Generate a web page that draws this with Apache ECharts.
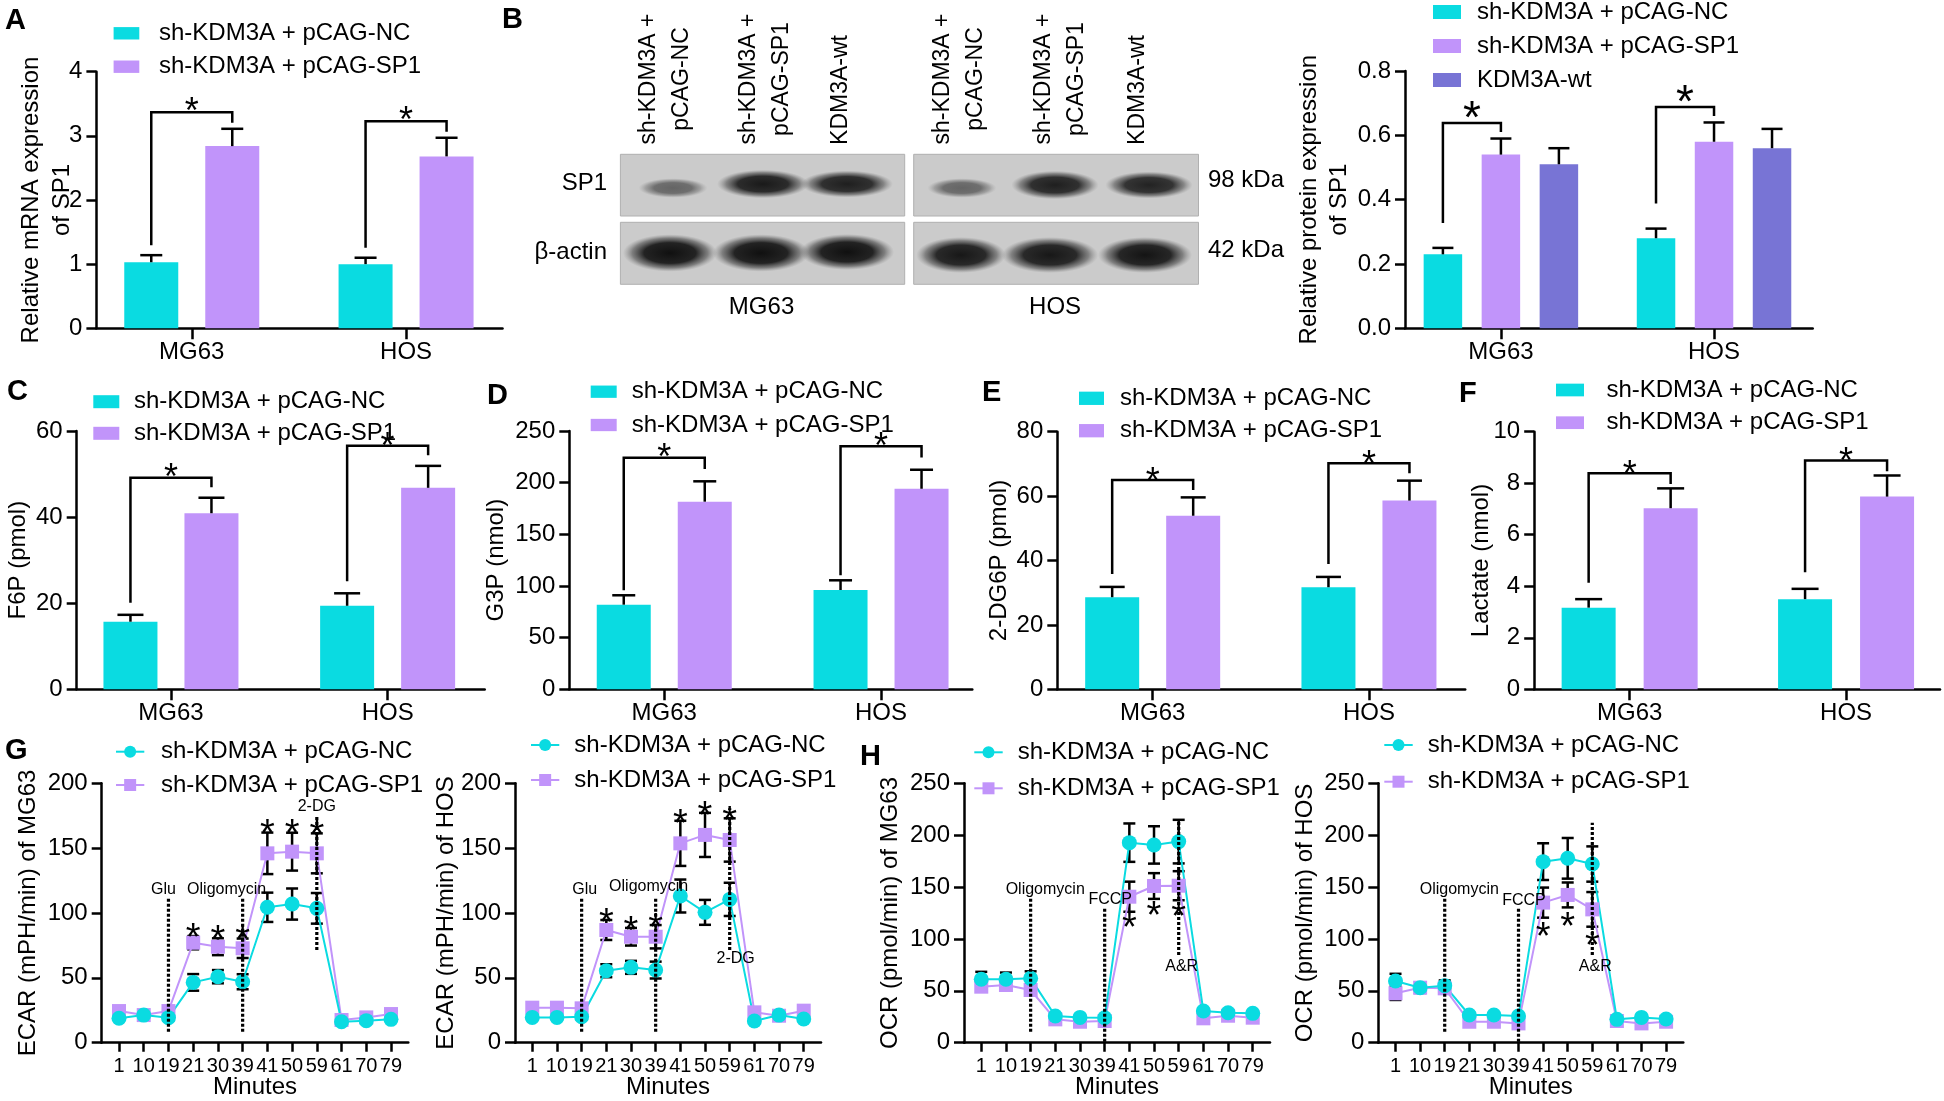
<!DOCTYPE html>
<html><head><meta charset="utf-8">
<script src="https://cdn.jsdelivr.net/npm/echarts@6/dist/echarts.min.js"></script>
<style>html,body{margin:0;padding:0;background:#fff}#c{width:1944px;height:1101px}</style>
</head><body><div id="c"></div>
<script>
// ---------------- DATA ----------------
const groups = ['MG63', 'HOS'];
const minutes = ['1','10','19','21','30','39','41','50','59','61','70','79'];
const nameNC = 'sh-KDM3A + pCAG-NC';
const nameSP1 = 'sh-KDM3A + pCAG-SP1';
const nameWT = 'KDM3A-wt';

// A: relative mRNA expression of SP1
const A_nc = [1.03, 1.00];
const A_ncErr = [0.11, 0.10];
const A_sp1 = [2.84, 2.68];
const A_sp1Err = [0.27, 0.29];

// B: relative protein expression of SP1
const B_nc = [0.23, 0.28];
const B_ncErr = [0.02, 0.03];
const B_sp1 = [0.54, 0.58];
const B_sp1Err = [0.05, 0.06];
const B_wt = [0.51, 0.56];
const B_wtErr = [0.05, 0.06];

// B: western blot
const blotCells = ['MG63', 'HOS'];
const blotLanes = ['sh-KDM3A +\npCAG-NC', 'sh-KDM3A +\npCAG-SP1', 'KDM3A-wt'];
const blotRows = ['SP1', 'β-actin'];
const blotSizes = ['98 kDa', '42 kDa'];
const blotSP1Density = [[0.55, 0.95, 0.92], [0.55, 0.92, 0.9]];
const blotActinDensity = [[1, 1, 1], [0.96, 0.96, 0.98]];

// C: F6P
const C_nc = [15.7, 19.4];
const C_ncErr = [1.6, 2.9];
const C_sp1 = [40.9, 46.8];
const C_sp1Err = [3.6, 5.1];

// D: G3P
const D_nc = [81.9, 96.1];
const D_ncErr = [9.1, 9.4];
const D_sp1 = [181.6, 194.1];
const D_sp1Err = [19.7, 18.4];

// E: 2-DG6P
const E_nc = [28.6, 31.7];
const E_ncErr = [3.2, 3.2];
const E_sp1 = [53.9, 58.6];
const E_sp1Err = [5.7, 6.2];

// F: Lactate
const F_nc = [3.17, 3.5];
const F_ncErr = [0.33, 0.4];
const F_sp1 = [7.03, 7.48];
const F_sp1Err = [0.77, 0.82];

// G: ECAR MG63
const G1_nc = [18.8, 21.3, 19.3, 46.5, 50.9, 47.0, 104.4, 106.9, 103.6, 16.2, 17.0, 18.0];
const G1_ncErr = [2, 2, 2, 6.4, 5.1, 5.8, 11.3, 12.0, 11.8, 1.5, 1.5, 1.5];
const G1_sp1 = [24.4, 21.3, 24.4, 77.1, 74.0, 72.8, 146.0, 147.3, 146.0, 17.5, 19.5, 22.1];
const G1_sp1Err = [2, 2, 2, 5.1, 6.5, 7.5, 16.0, 14.6, 15.4, 1.5, 1.5, 1.5];
const G1_events = [[2, 8.5, 111], [5, 8.5, 111], [8, 71.5, 174]];
const G_eventLabels = ['Glu', 'Oligomycin', '2-DG'];
const G_stars = [3, 4, 5, 6, 7, 8];

// G: ECAR HOS
const G2_nc = [19.5, 19.5, 20.0, 55.5, 58.1, 56.0, 113.1, 100.5, 110.5, 16.7, 21.3, 18.3];
const G2_ncErr = [2, 2, 2, 5.0, 5.0, 6.5, 12.7, 9.6, 12.8, 1.5, 1.5, 1.5];
const G2_sp1 = [27.0, 27.0, 26.5, 86.9, 81.7, 81.7, 153.7, 160.2, 156.3, 23.4, 20.8, 24.7];
const G2_sp1Err = [2, 2, 2, 7.7, 6.8, 9.0, 17.4, 17.0, 16.7, 1.5, 1.5, 1.5];
const G2_events = [[2, 8.5, 111.3], [5, 8.5, 111.3], [8, 71.5, 180.7]];

// H: OCR MG63
const H1_nc = [61.1, 61.1, 62.0, 25.7, 24.4, 24.1, 192.8, 190.6, 193.8, 30.5, 28.9, 28.3];
const H1_ncErr = [7.2, 6.5, 6.8, 2, 2, 2, 18.5, 18.0, 21.0, 2, 2, 2];
const H1_sp1 = [54.0, 55.6, 50.8, 22.5, 20.2, 20.9, 140.7, 151.0, 151.3, 23.5, 26.0, 24.1];
const H1_sp1Err = [4, 4, 5, 2, 2, 2, 14.5, 12.4, 14.0, 2, 2, 2];
const H1_events = [[2, 10.6, 139.1], [5, 1, 129.5], [8, 84.5, 214.7]];
const H_eventLabels = ['Oligomycin', 'FCCP', 'A&R'];
const H_stars = [6, 7, 8];

// H: OCR HOS
const H2_nc = [59.4, 53.0, 55.0, 26.7, 26.7, 25.7, 174.5, 177.7, 172.2, 22.5, 24.4, 22.8];
const H2_ncErr = [7, 5, 5, 2, 2, 2, 17.7, 19.6, 17.0, 2, 2, 2];
const H2_sp1 = [47.6, 53.0, 52.4, 20.2, 20.2, 18.6, 135.0, 142.4, 128.5, 20.9, 18.6, 20.2];
const H2_sp1Err = [6.4, 4, 4, 2, 2, 2, 14.5, 12.0, 16.7, 2, 2, 2];
const H2_events = [[2, 10.6, 139.1], [5, 1, 129.5], [8, 84.5, 212]];

// ---------------- STYLE / LAYOUT ----------------
const FONT = '"Liberation Sans", Arial, Helvetica, sans-serif';
const BLACK = '#000000';
const CYAN = '#0adbe1';
const LAV = '#c194fa';
const SLATE = '#7874d5';
const AX = 2.5;
const LEG = {NC: nameNC, SP1: nameSP1, WT: nameWT, NC_l: nameNC, SP1_l: nameSP1};

const LAYOUT = {
  A: {grid:[96.4,71.7,406.1,256.6], xr:[-0.445, 1.45], nameGap:18.4, nameLH:31, bw:54, bg:27, cap:22, star:36,
      br:{left:10, top:16.5, right:6, star:9},
      legend:{left:113.6, top:21.3, w:25.7, h:12.4, gap:9.4, pad:14.7}},
  B: {grid:[1405,71,407.7,257.3], xr:[-0.45, 1.463], nameGap:51, nameLH:30, bw:38.5, bg:19.5, cap:21, star:46,
      br:{left:25, top:15.5, right:6.5, star:15},
      legend:{left:1433, top:0, w:28, h:14, gap:10, pad:11}},
  C: {grid:[76.7,431,408,258.3], xr:[-0.435, 1.448], nameGap:46.4, nameLH:24, bw:54, bg:27, cap:26, star:36,
      br:{left:12, top:20, right:10.5, star:8},
      legend:{left:93.3, top:389.7, w:26, h:13, gap:7.6, pad:9.7}},
  D: {grid:[569.3,431,403,258.3], xr:[-0.438, 1.421], nameGap:60.6, nameLH:24, bw:54, bg:27, cap:23, star:36,
      br:{left:5, top:23.6, right:12.3, star:8},
      legend:{left:590.7, top:379.7, w:26, h:12.3, gap:9.3, pad:10}},
  E: {grid:[1057.3,431.7,407.9,257.6], xr:[-0.441, 1.445], nameGap:46.3, nameLH:24, bw:54, bg:27, cap:25, star:36,
      br:{left:13, top:17.3, right:7.3, star:7},
      legend:{left:1079, top:386.3, w:25, h:13.3, gap:8.4, pad:11}},
  F: {grid:[1534.2,431.7,405.8,257.6], xr:[-0.441, 1.434], nameGap:41.2, nameLH:24, bw:54, bg:28, cap:27, star:36,
      br:{left:16.5, top:15, right:4.3, star:7},
      legend:{left:1556, top:378, w:28, h:12.7, gap:8.7, pad:17.4}},
  G1: {grid:[101.7,783.3,306.6,259.4], nameGap:61.4, starOff:7,
      legend:{left:115, top:739.7, w:28.3, h:15, gap:9.3, pad:11.7},
      ev:[{at:'top',dx:-5,dy:-9},{at:'top',dx:-16,dy:-9},{at:'top',dx:0,dy:-10}]},
  G2: {grid:[515,783.3,306,259.4], nameGap:57, starOff:6,
      legend:{left:530, top:733, w:28.3, h:15, gap:11, pad:10},
      ev:[{at:'top',dx:3,dy:-9},{at:'top',dx:-7,dy:-12},{at:'bottom',dx:6,dy:9}]},
  H1: {grid:[964,783.3,306,259.4], nameGap:61.3, starOff:8,
      legend:{left:973.3, top:740.3, w:28.4, h:15, gap:12, pad:10},
      ev:[{at:'top',dx:14.6,dy:-9},{at:'top',dx:5.5,dy:-9},{at:'bottom',dx:3,dy:12}]},
  H2: {grid:[1378.3,783.3,305,259.4], nameGap:61.3, starOff:11,
      legend:{left:1383.3, top:733, w:28.4, h:15, gap:12.7, pad:10},
      ev:[{at:'top',dx:14.6,dy:-9},{at:'top',dx:5.5,dy:-8},{at:'bottom',dx:3,dy:12}]}
};
const LINE_STAR = 38;

const grid = [], xAxis = [], yAxis = [], series = [], legend = [], elements = [];

function addGrid(b) {
  grid.push({left:b[0], top:b[1], width:b[2], height:b[3], containLabel:false, outerBoundsMode:'none'});
  return grid.length - 1;
}
function addY(gi, max, step, name, gap, lh, fmt) {
  yAxis.push({type:'value', gridIndex:gi, min:0, max:max, interval:step,
    name:name, nameLocation:'middle', nameGap:gap, nameRotate:90, nameMoveOverlap:false,
    nameTextStyle:{fontFamily:FONT, fontSize:24, color:BLACK, lineHeight:lh},
    axisLine:{show:true, onZero:false, lineStyle:{color:BLACK, width:AX}},
    axisTick:{show:true, inside:false, length:10, lineStyle:{color:BLACK, width:AX}},
    axisLabel:{show:true, fontFamily:FONT, fontSize:24, color:BLACK, margin:14, formatter:fmt},
    splitLine:{show:false}});
  return yAxis.length - 1;
}
// group axis: categories placed at 0 and 1 on a value scale (GraphPad-like end padding)
function addGroupX(gi, xr) {
  const idx = groups.map((g, i) => i);
  xAxis.push({type:'value', gridIndex:gi, min:xr[0], max:xr[1],
    axisLine:{show:true, onZero:false, lineStyle:{color:BLACK, width:AX}},
    axisTick:{show:true, length:11, customValues:idx, lineStyle:{color:BLACK, width:AX}},
    axisLabel:{show:true, customValues:idx, formatter:(v) => groups[Math.round(v)] ?? '',
      fontFamily:FONT, fontSize:24, color:BLACK, margin:12},
    splitLine:{show:false}});
  return xAxis.length - 1;
}
function addMinX(gi) {
  const idx = minutes.map((m, i) => i);
  xAxis.push({type:'value', gridIndex:gi, min:-0.7, max:11.7,
    name:'Minutes', nameLocation:'middle', nameGap:33, nameMoveOverlap:false,
    nameTextStyle:{fontFamily:FONT, fontSize:24, color:BLACK},
    axisLine:{show:true, onZero:false, lineStyle:{color:BLACK, width:AX}},
    axisTick:{show:true, length:9, customValues:idx, lineStyle:{color:BLACK, width:AX}},
    axisLabel:{show:true, customValues:idx, formatter:(v) => minutes[Math.round(v)] ?? '',
      fontFamily:FONT, fontSize:20, color:BLACK, margin:14},
    splitLine:{show:false}});
  return xAxis.length - 1;
}
function addLegend(l, names, icon) {
  const o = {orient:'vertical', left:l.left, top:l.top, padding:0, itemWidth:l.w, itemHeight:l.h,
    itemGap:l.gap, selectedMode:false, data:names, formatter:(n) => LEG[n],
    textStyle:{fontFamily:FONT, fontSize:24, color:BLACK, padding:[0, 0, 0, l.pad]}};
  if (icon) o.icon = icon;
  legend.push(o);
}
function starText(x, y, fs) {
  return {type:'text', x:x, y:y + 0.27 * fs,
    style:{text:'*', font:fs + 'px ' + FONT, fill:BLACK, align:'center', verticalAlign:'middle',
      textAlign:'center', textVerticalAlign:'middle'}};
}

function barPanel(key, cfg) {
  const lay = LAYOUT[key];
  const gi = addGrid(lay.grid);
  const xi = addGroupX(gi, lay.xr);
  const yi = addY(gi, cfg.max, cfg.step, cfg.name, lay.nameGap, lay.nameLH, cfg.fmt);
  const n = cfg.series.length;
  const step = lay.bw + lay.bg;
  cfg.series.forEach(s => series.push({type:'bar', name:s.name, xAxisIndex:xi, yAxisIndex:yi,
    data:s.vals.map((v, c) => [c, v]), barWidth:lay.bw, barGap:(lay.bg / lay.bw * 100) + '%',
    itemStyle:{color:s.color}, silent:true, z:2}));
  // error bars
  const ed = [];
  cfg.series.forEach((s, k) => s.vals.forEach((v, c) => ed.push([c, v, v + s.errs[c], k])));
  series.push({type:'custom', xAxisIndex:xi, yAxisIndex:yi, silent:true, clip:false, z:3,
    data:ed, encode:{x:0, y:[1, 2]},
    renderItem(p, api) {
      const c = api.value(0), k = api.value(3);
      const x = api.coord([c, 0])[0] + (k - (n - 1) / 2) * step;
      const yb = api.coord([c, api.value(1)])[1];
      const yt = api.coord([c, api.value(2)])[1];
      return {type:'group', children:[
        {type:'line', shape:{x1:x, y1:yb, x2:x, y2:yt}, style:{stroke:BLACK, lineWidth:AX}},
        {type:'line', shape:{x1:x - lay.cap / 2, y1:yt, x2:x + lay.cap / 2, y2:yt}, style:{stroke:BLACK, lineWidth:AX}}
      ]};
    }});
  // significance brackets between series 0 and 1
  const s0 = cfg.series[0], s1 = cfg.series[1];
  const bd = groups.map((g, c) => [c, s0.vals[c] + s0.errs[c], s1.vals[c] + s1.errs[c]]);
  series.push({type:'custom', xAxisIndex:xi, yAxisIndex:yi, silent:true, clip:false, z:4,
    data:bd, encode:{x:0, y:[1, 2]},
    renderItem(p, api) {
      const c = api.value(0);
      const cx = api.coord([c, 0])[0];
      const xl = cx + (0 - (n - 1) / 2) * step, xr = cx + (1 - (n - 1) / 2) * step;
      const yl = api.coord([c, api.value(1)])[1] - lay.br.left;
      const yb = api.coord([c, api.value(2)])[1];
      const yr = yb - lay.br.right, yt = yb - lay.br.top;
      return {type:'group', children:[
        {type:'polyline', shape:{points:[[xl, yl], [xl, yt], [xr, yt], [xr, yr]]},
          style:{stroke:BLACK, lineWidth:AX, fill:'none'}},
        starText((xl + xr) / 2, yt - lay.br.star, lay.star)
      ]};
    }});
  addLegend(lay.legend, cfg.series.map(s => s.name), 'rect');
}

function linePanel(key, cfg) {
  const lay = LAYOUT[key];
  const gi = addGrid(lay.grid);
  const xi = addMinX(gi);
  const yi = addY(gi, cfg.max, 50, cfg.name, lay.nameGap, 24);
  const errSeries = (vals, errs) => ({type:'custom', xAxisIndex:xi, yAxisIndex:yi, silent:true, clip:false, z:3,
    data:vals.map((v, i) => [i, v - errs[i], v + errs[i]]), encode:{x:0, y:[1, 2]},
    renderItem(p, api) {
      const x = api.coord([api.value(0), 0])[0];
      const y1 = api.coord([api.value(0), api.value(1)])[1];
      const y2 = api.coord([api.value(0), api.value(2)])[1];
      const cw = 6;
      return {type:'group', children:[
        {type:'line', shape:{x1:x, y1:y1, x2:x, y2:y2}, style:{stroke:BLACK, lineWidth:AX}},
        {type:'line', shape:{x1:x - cw, y1:y1, x2:x + cw, y2:y1}, style:{stroke:BLACK, lineWidth:AX}},
        {type:'line', shape:{x1:x - cw, y1:y2, x2:x + cw, y2:y2}, style:{stroke:BLACK, lineWidth:AX}}
      ]};
    }});
  series.push(errSeries(cfg.sp1, cfg.sp1Err));
  series.push(errSeries(cfg.nc, cfg.ncErr));
  series.push({type:'line', name:'SP1_l', xAxisIndex:xi, yAxisIndex:yi, silent:true, z:4,
    data:cfg.sp1.map((v, i) => [i, v]), symbol:'rect', symbolSize:14, showSymbol:true, showAllSymbol:true,
    itemStyle:{color:LAV}, lineStyle:{color:LAV, width:2}});
  series.push({type:'line', name:'NC_l', xAxisIndex:xi, yAxisIndex:yi, silent:true, z:4,
    data:cfg.nc.map((v, i) => [i, v]), symbol:'circle', symbolSize:15, showSymbol:true, showAllSymbol:true,
    itemStyle:{color:CYAN}, lineStyle:{color:CYAN, width:2}});
  // injection event lines
  series.push({type:'custom', xAxisIndex:xi, yAxisIndex:yi, silent:true, clip:false, z:6,
    data:cfg.events.map((e, k) => [e[0], e[1], e[2], k]), encode:{x:0, y:[1, 2]},
    renderItem(p, api) {
      const k = api.value(3), ev = lay.ev[k];
      const x = api.coord([api.value(0), 0])[0];
      const y0 = api.coord([api.value(0), api.value(1)])[1];
      const y1 = api.coord([api.value(0), api.value(2)])[1];
      const ly = (ev.at === 'top' ? y1 : y0) + ev.dy;
      return {type:'group', children:[
        {type:'line', shape:{x1:x, y1:y0, x2:x, y2:y1}, style:{stroke:BLACK, lineWidth:3.2, lineDash:[3, 2]}},
        {type:'text', x:x + ev.dx, y:ly, style:{text:cfg.labels[k], font:'16px ' + FONT, fill:BLACK,
          align:'center', verticalAlign:'middle', textAlign:'center', textVerticalAlign:'middle'}}
      ]};
    }});
  // stars
  const dir = cfg.starDir;
  series.push({type:'custom', xAxisIndex:xi, yAxisIndex:yi, silent:true, clip:false, z:7,
    data:cfg.stars.map(i => [i, dir > 0 ? cfg.sp1[i] + cfg.sp1Err[i] : cfg.sp1[i] - cfg.sp1Err[i]]),
    encode:{x:0, y:1},
    renderItem(p, api) {
      const pt = api.coord([api.value(0), api.value(1)]);
      return starText(pt[0], pt[1] - dir * lay.starOff, LINE_STAR);
    }});
  addLegend(lay.legend, ['NC_l', 'SP1_l']);
}

barPanel('A', {max:4, step:1, name:'Relative mRNA expression\nof SP1', series:[
  {name:'NC', vals:A_nc, errs:A_ncErr, color:CYAN},
  {name:'SP1', vals:A_sp1, errs:A_sp1Err, color:LAV}]});
barPanel('B', {max:0.8, step:0.2, name:'Relative protein expression\nof SP1', fmt:(v) => v.toFixed(1), series:[
  {name:'NC', vals:B_nc, errs:B_ncErr, color:CYAN},
  {name:'SP1', vals:B_sp1, errs:B_sp1Err, color:LAV},
  {name:'WT', vals:B_wt, errs:B_wtErr, color:SLATE}]});
barPanel('C', {max:60, step:20, name:'F6P (pmol)', series:[
  {name:'NC', vals:C_nc, errs:C_ncErr, color:CYAN},
  {name:'SP1', vals:C_sp1, errs:C_sp1Err, color:LAV}]});
barPanel('D', {max:250, step:50, name:'G3P (nmol)', series:[
  {name:'NC', vals:D_nc, errs:D_ncErr, color:CYAN},
  {name:'SP1', vals:D_sp1, errs:D_sp1Err, color:LAV}]});
barPanel('E', {max:80, step:20, name:'2-DG6P (pmol)', series:[
  {name:'NC', vals:E_nc, errs:E_ncErr, color:CYAN},
  {name:'SP1', vals:E_sp1, errs:E_sp1Err, color:LAV}]});
barPanel('F', {max:10, step:2, name:'Lactate (nmol)', series:[
  {name:'NC', vals:F_nc, errs:F_ncErr, color:CYAN},
  {name:'SP1', vals:F_sp1, errs:F_sp1Err, color:LAV}]});

linePanel('G1', {max:200, name:'ECAR (mPH/min) of MG63', nc:G1_nc, ncErr:G1_ncErr, sp1:G1_sp1, sp1Err:G1_sp1Err,
  events:G1_events, labels:G_eventLabels, stars:G_stars, starDir:1});
linePanel('G2', {max:200, name:'ECAR (mPH/min) of HOS', nc:G2_nc, ncErr:G2_ncErr, sp1:G2_sp1, sp1Err:G2_sp1Err,
  events:G2_events, labels:G_eventLabels, stars:G_stars, starDir:1});
linePanel('H1', {max:250, name:'OCR (pmol/min) of MG63', nc:H1_nc, ncErr:H1_ncErr, sp1:H1_sp1, sp1Err:H1_sp1Err,
  events:H1_events, labels:H_eventLabels, stars:H_stars, starDir:-1});
linePanel('H2', {max:250, name:'OCR (pmol/min) of HOS', nc:H2_nc, ncErr:H2_ncErr, sp1:H2_sp1, sp1Err:H2_sp1Err,
  events:H2_events, labels:H_eventLabels, stars:H_stars, starDir:-1});

// ---------------- panel letters ----------------
const letters = [['A', 5, 20], ['B', 502, 19], ['C', 7, 391], ['D', 487, 395], ['E', 982, 392],
                 ['F', 1459, 393], ['G', 5, 750], ['H', 860, 756]];
letters.forEach(l => elements.push({type:'text', x:l[1], y:l[2] + 1,
  style:{text:l[0], font:'bold 29px ' + FONT, fill:BLACK, align:'left', verticalAlign:'middle',
    textAlign:'left', textVerticalAlign:'middle'}}));

// ---------------- western blot ----------------
const BLOT = {
  boxX: [[620.4, 904.7], [913.7, 1198.5]],
  rowY: [[154.3, 216], [222.3, 284.3]],
  sp1Bands: [[[673,188,30,6.5],[763,184,40,9.5],[847,184,40,9]], [[962,188,30,6.5],[1055,185,38,9.5],[1149,185,38,9]]],
  actinBands: [[[670,253,41,12.5],[761,253,42,12.5],[847,252,41,12]], [[961,255,39,12],[1050,255,42,12],[1145,255,41,12]]],
  laneX: [[665, 765.5, 841], [959.5, 1060, 1138]],
  rowLabelX: 607, rowLabelY: [183, 252], sizeX: 1208, sizeY: [180, 250], cellY: 307
};
BLOT.boxX.forEach(bx => BLOT.rowY.forEach(ry => elements.push({type:'rect',
  shape:{x:bx[0], y:ry[0], width:bx[1] - bx[0], height:ry[1] - ry[0]},
  style:{fill:'#cbcbcb', stroke:'#b0b0b0', lineWidth:1}})));
function band(b, d) {
  const R = b[3] * 1.5;
  return {type:'circle', x:b[0], y:b[1], scaleX:(b[2] * 1.15) / R, scaleY:1,
    shape:{cx:0, cy:0, r:R},
    style:{fill:new echarts.graphic.RadialGradient(0.5, 0.5, 0.5, [
      {offset:0, color:'rgba(16,16,16,' + d + ')'},
      {offset:0.55, color:'rgba(22,22,22,' + (0.93 * d) + ')'},
      {offset:0.8, color:'rgba(50,50,50,' + (0.5 * d) + ')'},
      {offset:1, color:'rgba(110,110,110,0)'}])}};
}
blotCells.forEach((cell, ci) => {
  BLOT.sp1Bands[ci].forEach((b, li) => elements.push(band(b, blotSP1Density[ci][li])));
  BLOT.actinBands[ci].forEach((b, li) => elements.push(band(b, blotActinDensity[ci][li])));
  blotLanes.forEach((lab, li) => {
    const twoLine = lab.indexOf('\n') >= 0;
    elements.push({type:'text', x:BLOT.laneX[ci][li], y:twoLine ? 79 : 90, rotation:Math.PI / 2,
      style:{text:lab, font:'23px ' + FONT, fill:BLACK, lineHeight:33, align:'center', verticalAlign:'middle',
        textAlign:'center', textVerticalAlign:'middle'}});
  });
  elements.push({type:'text', x:(BLOT.boxX[ci][0] + BLOT.boxX[ci][1]) / 2 - 1, y:BLOT.cellY,
    style:{text:cell, font:'24px ' + FONT, fill:BLACK, align:'center', verticalAlign:'middle',
      textAlign:'center', textVerticalAlign:'middle'}});
});
blotRows.forEach((r, ri) => {
  elements.push({type:'text', x:BLOT.rowLabelX, y:BLOT.rowLabelY[ri],
    style:{text:r, font:'24px ' + FONT, fill:BLACK, align:'right', verticalAlign:'middle',
      textAlign:'right', textVerticalAlign:'middle'}});
  elements.push({type:'text', x:BLOT.sizeX, y:BLOT.sizeY[ri],
    style:{text:blotSizes[ri], font:'24px ' + FONT, fill:BLACK, align:'left', verticalAlign:'middle',
      textAlign:'left', textVerticalAlign:'middle'}});
});

const chart = echarts.init(document.getElementById('c'), null, {renderer:'canvas', width:1944, height:1101});
chart.setOption({
  animation:false,
  backgroundColor:'#ffffff',
  textStyle:{fontFamily:FONT, color:BLACK},
  grid:grid, xAxis:xAxis, yAxis:yAxis, series:series, legend:legend,
  graphic:{elements:elements}
});
</script></body></html>
